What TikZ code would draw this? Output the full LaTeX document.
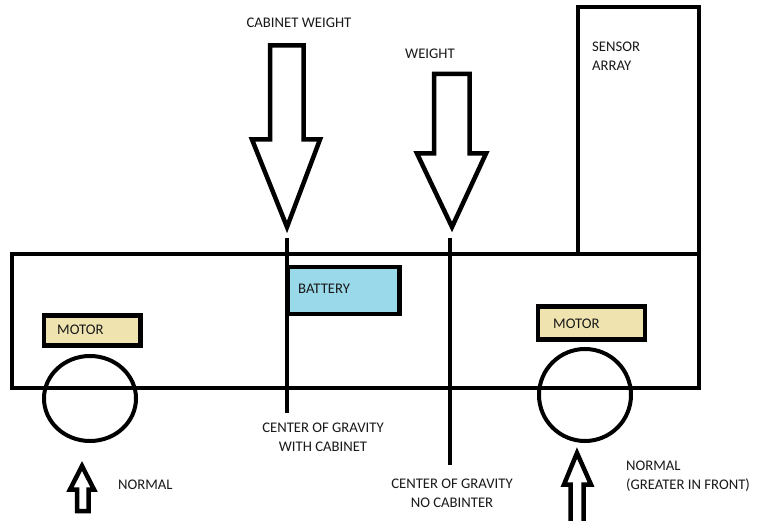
\documentclass[tikz,border=0pt]{standalone}
\usepackage{fontspec}
\setmainfont{Carlito}
\usepackage{tikz}
\usetikzlibrary{shapes,arrows,positioning}

\definecolor{BatteryBlue}{HTML}{99D9EA}
\definecolor{MotorTan}{HTML}{EFE4B0}

\begin{document}
\begin{tikzpicture}[x=1pt, y=-1pt]
			\tikzstyle{Box}		= [rectangle, draw, line width=4.5pt, inner sep=0pt]
			\tikzstyle{Wheel}	= [ellipse, draw, line width=4pt, inner sep=0pt]
			\tikzstyle{Label}	= [inner sep=0pt, font=\fontsize{14.7}{18.5}\selectfont, text=black!90]
			\tikzstyle{Force}	= [line width=4.5pt, line join=miter, fill=white]
			\tikzstyle{CG}		= [line width=4.5pt, black]

			\useasboundingbox (0,0) rectangle (758,521);

			% body, sensor mast and parts
			\node (sensor) at (638.5,130.5) [Box, minimum width=121, minimum height=247] {};
			\node (chassis) at (355.5,321) [Box, minimum width=687, minimum height=134] {};
			\node (battery) at (343.5,290.5) [Box, fill=BatteryBlue, minimum width=112, minimum height=47] {};
			\node (motorL) at (92.25,330.5) [Box, fill=MotorTan, minimum width=96.5, minimum height=30] {};
			\node (motorR) at (591.5,323) [Box, fill=MotorTan, minimum width=107, minimum height=33] {};
			\node (wheelL) at (90,398.5) [Wheel, minimum width=92, minimum height=85] {};
			\node (wheelR) at (585,395) [Wheel, minimum width=92, minimum height=92] {};

			\node (sensorText) at (592,56) [Label, anchor=west, align=left] {SENSOR\\ARRAY};
			\node (batteryText) at (298,289) [Label, anchor=west] {BATTERY};
			\node (motorLText) at (57,330) [Label, anchor=west] {MOTOR};
			\node (motorRText) at (553,324) [Label, anchor=west] {MOTOR};

			% loads
			\draw [Force] (270,45.5) -- (303.5,45.5) -- (303.5,139.5) -- (320,139.5) -- (287,227)
				-- (252,139.5) -- (270,139.5) -- cycle;
			\draw [Force] (434,74) -- (469.5,74) -- (469.5,153.5) -- (486,153.5) -- (452,227)
				-- (417,153.5) -- (434,153.5) -- cycle;
			\node (cabWeight) at (299,23) [Label] {CABINET WEIGHT};
			\node (weight) at (405,54) [Label, anchor=west] {WEIGHT};

			% centres of gravity
			\coordinate (cgCabTop) at (287,238);
			\coordinate (cgCabBot) at (287,413);
			\coordinate (cgTop) at (450,238);
			\coordinate (cgBot) at (450,465);
			\draw [-] (cgCabTop) to (cgCabBot) [CG];
			\draw [-] (cgTop) to (cgBot) [CG];
			\node (cgCabText) at (323,437.5) [Label, align=center] {CENTER OF GRAVITY\\WITH CABINET};
			\node (cgText) at (452,493.5) [Label, align=center] {CENTER OF GRAVITY\\NO CABINTER};

			% normal forces
			\draw [Force] (77,511) -- (77,489.5) -- (70,489.5) -- (82,466) -- (94,489.5)
				-- (88.5,489.5) -- (88.5,511) -- cycle;
			\draw [Force] (570.5,526) -- (570.5,484.5) -- (564,484.5) -- (577,453) -- (591,484.5)
				-- (583.5,484.5) -- (583.5,526);
			\node (normalL) at (118,485) [Label, anchor=west] {NORMAL};
			\node (normalR) at (626,476) [Label, anchor=west, align=left] {NORMAL\\(GREATER IN FRONT)};
		\end{tikzpicture}
\end{document}
